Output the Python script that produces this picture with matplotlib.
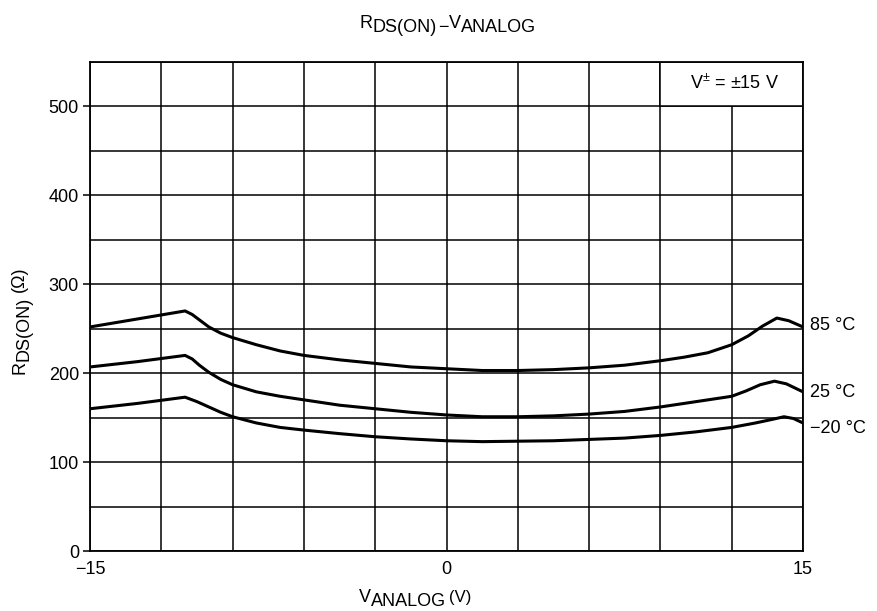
import matplotlib
matplotlib.use("Agg")
import matplotlib.pyplot as plt
from matplotlib.patches import Rectangle
from matplotlib.transforms import offset_copy

plt.rcParams['font.family'] = ['Liberation Sans', 'DejaVu Sans']
plt.rcParams['mathtext.fontset'] = 'custom'
plt.rcParams['mathtext.rm'] = 'Liberation Sans'
plt.rcParams['mathtext.it'] = 'Liberation Sans'

# Data
v_85 = [-15, -13, -11, -10.7, -10.4, -10, -9.5, -9, -8, -7, -6, -4.5, -3, -1.5, 0, 1.5, 3, 4.5, 6, 7.5, 9, 10, 11, 12, 12.7, 13.3, 13.9, 14.4, 15]
r_85 = [252, 261, 270, 266, 260, 252, 245, 240, 232, 225, 220, 215, 211, 207, 205, 203, 203, 204, 206, 209, 214, 218, 223, 232, 242, 253, 262, 259, 252]

v_25 = [-15, -13, -11, -10.7, -10.4, -10, -9.5, -9, -8, -7, -6, -4.5, -3, -1.5, 0, 1.5, 3, 4.5, 6, 7.5, 9, 10, 11, 12, 12.6, 13.2, 13.8, 14.3, 15]
r_25 = [207, 213, 220, 216, 209, 201, 193, 187, 179, 174, 170, 164, 160, 156, 153, 151, 151, 152, 154, 157, 162, 166, 170, 174, 180, 187, 191, 188, 179]

v_m20 = [-15, -13, -11, -10.5, -10, -9.5, -9, -8, -7, -6, -4.5, -3, -1.5, 0, 1.5, 3, 4.5, 6, 7.5, 9, 10.5, 12, 13, 13.7, 14.2, 14.6, 15]
r_m20 = [160, 166, 173, 168, 162, 156, 151, 144, 139, 136, 132, 128.5, 126, 124, 123, 123.5, 124, 125.5, 127, 130, 134, 139, 144, 148, 151, 149, 144]

curve_labels = ["85 °C", "25 °C", "\u221220 °C"]
label_y = [254, 178, 138]

x_major = [-15, 0, 15]
x_major_labels = ["\u221215", "0", "15"]
x_grid = list(range(-15, 16, 3))
y_major = [0, 100, 200, 300, 400, 500]
y_grid = list(range(0, 551, 50))

fig = plt.figure(figsize=(8.77, 6.11), dpi=100)
ax = fig.add_axes([90/877, 1-551/611, 713/877, 489/611])

ax.set_xlim(-15, 15)
ax.set_ylim(0, 550)

ax.set_xticks(x_major)
ax.set_xticklabels(x_major_labels)
ax.set_xticks(x_grid, minor=True)
ax.set_yticks(y_major)
ax.set_yticks(y_grid, minor=True)

ax.grid(True, which='both', color='black', linewidth=1.1)
ax.set_axisbelow(True)
ax.tick_params(axis='x', which='both', length=0, pad=7, labelsize=13)
ax.tick_params(axis='y', which='major', length=5, width=1.1, pad=3, labelsize=13, direction='out')
ax.tick_params(axis='y', which='minor', length=0)
for s in ax.spines.values():
    s.set_linewidth(1.3)
    s.set_color('black')

for v, r in [(v_85, r_85), (v_25, r_25), (v_m20, r_m20)]:
    ax.plot(v, r, color='black', linewidth=2.2, solid_capstyle='round', solid_joinstyle='round', zorder=3)

for lab, yy in zip(curve_labels, label_y):
    ax.text(15.3, yy, lab, fontsize=13, ha='left', va='center', clip_on=False)

# Annotation box covering the top-right cell
ax.add_patch(Rectangle((9, 500), 6, 50, facecolor='white', edgecolor='black', linewidth=1.1, zorder=2))
ax.text(12.1, 526, "V$^{\\pm}$ = \u00b115 V", fontsize=13, ha='center', va='center', zorder=4)

renderer = fig.canvas.get_renderer()


def rich_text(cx, cy, parts, vertical=False):
    """parts: list of (string, fontsize, drop_px, gap_after_px). Centered at (cx, cy) in pixels."""
    texts = []
    pos = 0.0
    for s, size, drop, gap in parts:
        t = fig.text(0, 0, s, fontsize=size, ha='left', va='baseline',
                     rotation=90 if vertical else 0, rotation_mode='anchor')
        bb = t.get_window_extent(renderer)
        adv = bb.height if vertical else bb.width
        texts.append((t, pos, drop))
        pos += adv + gap
    total = pos - parts[-1][3]
    for t, p, drop in texts:
        if vertical:
            dx, dy = drop, p - total / 2
        else:
            dx, dy = p - total / 2, -drop
        t.set_transform(offset_copy(fig.transFigure, fig, x=dx, y=dy, units='dots'))
        t.set_position((cx / 877, cy / 611))


# Title
rich_text(448, 611 - 28, [("R", 13, 0, 0), ("DS(ON)", 13, 4, 1), ("\u2212", 13, 4, 1),
                          ("V", 13, 0, 0), ("ANALOG", 13, 4, 0)])
# X label
rich_text(415, 611 - 602, [("V", 13, 0, 0), ("ANALOG", 13, 4, 3), ("(V)", 12, 0, 0)])
# Y label
rich_text(24, 611 - 320, [("R", 13, 0, 0), ("DS(ON)", 13, 4, 5), ("(\u03a9)", 13, 0, 0)], vertical=True)

fig.savefig("out.png", dpi=100)
